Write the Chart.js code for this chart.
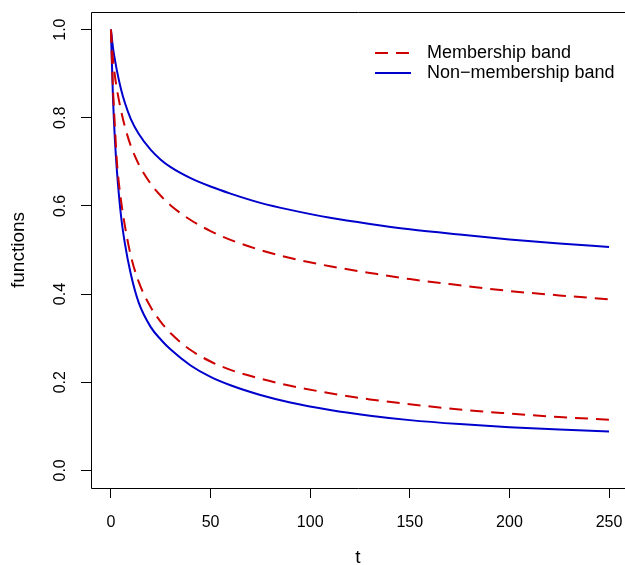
<!DOCTYPE html>
<html><head><meta charset="utf-8">
<script src="https://cdn.jsdelivr.net/npm/chart.js@4.4.0/dist/chart.umd.min.js"></script>
<style>html,body{margin:0;padding:0;background:#fff;overflow:hidden}canvas{display:block}</style>
</head><body>
<canvas id="c" width="625" height="565"></canvas>
<script>
// ---- data ----
const tValues = [0, 1, 2, 3, 5, 7, 10, 14, 20, 25, 30, 40, 50, 60, 75, 90, 110, 130, 150, 175, 200, 225, 250];
const memUpper = [1.0, 0.935, 0.895, 0.865, 0.818, 0.78, 0.736, 0.694, 0.65, 0.623, 0.601, 0.568, 0.543, 0.523, 0.5, 0.482, 0.463, 0.448, 0.434, 0.42, 0.407, 0.397, 0.388];
const memLower = [1.0, 0.87, 0.78, 0.70, 0.615, 0.555, 0.487, 0.427, 0.37, 0.337, 0.311, 0.273, 0.247, 0.228, 0.208, 0.192, 0.175, 0.161, 0.15, 0.138, 0.129, 0.121, 0.115];
const nonUpper = [1.0, 0.96, 0.932, 0.907, 0.866, 0.834, 0.797, 0.763, 0.727, 0.705, 0.688, 0.663, 0.644, 0.628, 0.607, 0.591, 0.573, 0.559, 0.547, 0.535, 0.524, 0.515, 0.507];
const nonLower = [1.0, 0.85, 0.75, 0.68, 0.58, 0.515, 0.445, 0.38, 0.325, 0.297, 0.274, 0.238, 0.212, 0.193, 0.171, 0.154, 0.137, 0.124, 0.114, 0.105, 0.098, 0.093, 0.088];
const xTicks = [0, 50, 100, 150, 200, 250];
const yTicks = [0, 0.2, 0.4, 0.6, 0.8, 1.0];
const legendLabels = ['Membership band', 'Non\u2212membership band'];
const xTitle = 't';
const yTitle = 'functions';

const RED = '#CD0000', BLUE = '#0000CD';
const FONT = '"Liberation Sans", Arial, Helvetica, sans-serif';
const DASH = [13, 8];

const pts = arr => tValues.map((t, i) => ({x: t, y: arr[i]}));
const lineDS = (arr, color, dashed) => ({
  data: pts(arr), borderColor: color, borderWidth: 2, borderDash: dashed ? DASH : [],
  pointRadius: 0, fill: false, cubicInterpolationMode: 'monotone', borderCapStyle: 'butt'
});

const boxPlugin = {
  id: 'box',
  afterDraw(chart) {
    const {ctx, chartArea: a} = chart;
    ctx.save();
    ctx.strokeStyle = '#000'; ctx.lineWidth = 1;
    ctx.beginPath();
    ctx.moveTo(a.right + 1, Math.round(a.top) + 0.5);
    ctx.lineTo(Math.round(a.left) + 0.5, Math.round(a.top) + 0.5);
    ctx.lineTo(Math.round(a.left) + 0.5, Math.round(a.bottom) + 0.5);
    ctx.lineTo(a.right + 1, Math.round(a.bottom) + 0.5);
    ctx.stroke();
    // legend
    const items = [[RED, DASH, legendLabels[0]], [BLUE, [], legendLabels[1]]];
    ctx.font = '18px ' + FONT;
    ctx.textBaseline = 'middle';
    ctx.fillStyle = '#000';
    items.forEach((it, i) => {
      const y = 53 + i * 20;
      ctx.strokeStyle = it[0]; ctx.lineWidth = 2; ctx.setLineDash(it[1]);
      ctx.beginPath(); ctx.moveTo(375, y); ctx.lineTo(411, y); ctx.stroke();
      ctx.setLineDash([]);
      ctx.fillText(it[2], 427, y);
    });
    ctx.restore();
  }
};

new Chart(document.getElementById('c'), {
  type: 'line',
  data: {
    datasets: [
      lineDS(memUpper, RED, true),
      lineDS(memLower, RED, true),
      lineDS(nonUpper, BLUE, false),
      lineDS(nonLower, BLUE, false)
    ]
  },
  options: {
    responsive: false, animation: false, devicePixelRatio: 1,
    layout: {padding: {top: 12, right: 0, left: 0, bottom: 0}},
    plugins: {legend: {display: false}, tooltip: {enabled: false}},
    scales: {
      x: {
        type: 'linear', min: -10, max: 258,
        afterBuildTicks: s => { s.ticks = xTicks.map(v => ({value: v})); },
        afterFit: s => { s.height = 77; s.paddingLeft = 0; s.paddingRight = 0; },
        ticks: {font: {family: FONT, size: 16}, color: '#000', padding: 15, maxRotation: 0, autoSkip: false,
                callback: v => String(v)},
        grid: {drawOnChartArea: false, drawTicks: true, tickLength: 10, color: '#000', tickColor: '#000', lineWidth: 1},
        border: {display: false},
        title: {display: true, text: xTitle, color: '#000', font: {family: FONT, size: 19, lineHeight: 0.8}, padding: {top: 0, bottom: 0}}
      },
      y: {
        type: 'linear', min: -0.04, max: 1.04,
        afterBuildTicks: s => { s.ticks = yTicks.map(v => ({value: v})); },
        afterFit: s => { s.width = 91; s.paddingTop = 0; s.paddingBottom = 0; },
        ticks: {font: {family: FONT, size: 16}, color: '#000', padding: 9, minRotation: 90, maxRotation: 90,
                crossAlign: 'center', autoSkip: false, callback: v => Number(v).toFixed(1)},
        grid: {drawOnChartArea: false, drawTicks: true, tickLength: 10, color: '#000', tickColor: '#000', lineWidth: 1},
        border: {display: false},
        title: {display: true, text: yTitle, color: '#000', font: {family: FONT, size: 19}, padding: {top: 7, bottom: 0}}
      }
    }
  },
  plugins: [boxPlugin]
});
</script>
</body></html>
